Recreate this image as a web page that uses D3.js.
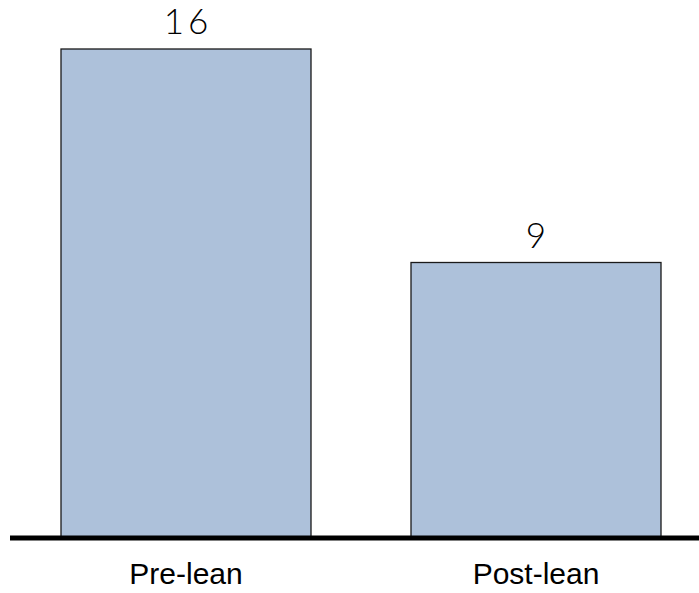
<!DOCTYPE html>
<html>
<head>
<meta charset="utf-8">
<script src="https://cdn.jsdelivr.net/npm/d3@7"></script>
<style>
  html, body { margin: 0; padding: 0; background: #fff; }
  svg { display: block; }
</style>
</head>
<body>
<svg id="chart" width="699" height="593"></svg>
<script>
// Lead-time counts before and after the lean rollout
const categories = ["Pre-lean", "Post-lean"];
const values = [16, 9];

const width = 699, height = 593;
const svg = d3.select("#chart");

const baseY = 537;
const x = d3.scaleBand()
  .domain(categories)
  .range([61, 661])
  .paddingInner(100 / 350)
  .paddingOuter(0);

const y = d3.scaleLinear()
  .domain([0, 16])
  .range([baseY, 49]);

// bars
svg.selectAll("rect.bar")
  .data(categories)
  .join("rect")
  .attr("class", "bar")
  .attr("x", d => x(d))
  .attr("y", (d, i) => y(values[i]))
  .attr("width", x.bandwidth())
  .attr("height", (d, i) => baseY - y(values[i]))
  .attr("fill", "#adc1da")
  .attr("stroke", "#1a1a1a")
  .attr("stroke-width", 1.3);

// value labels
svg.selectAll("text.value")
  .data(categories)
  .join("text")
  .attr("class", "value")
  .attr("x", d => x(d) + x.bandwidth() / 2)
  .attr("dx", 2)
  .attr("y", (d, i) => y(values[i]) - 15)
  .attr("text-anchor", "middle")
  .style("font-family", "Lato, 'Open Sans', sans-serif")
  .style("font-weight", 300)
  .style("font-size", "35px")
  .style("letter-spacing", "4px")
  .attr("fill", "#000")
  .text((d, i) => values[i]);

// baseline
const axis = svg.append("g")
  .attr("transform", `translate(0,${baseY})`)
  .call(d3.axisBottom(x).tickSize(0).tickPadding(26));
axis.select(".domain")
  .attr("d", `M10,1H${width}`)
  .attr("stroke", "#000")
  .attr("stroke-width", 5);
axis.selectAll(".tick text")
  .style("font-family", "'Liberation Sans', Arial, sans-serif")
  .style("font-size", "30px")
  .attr("fill", "#000");
</script>
</body>
</html>
